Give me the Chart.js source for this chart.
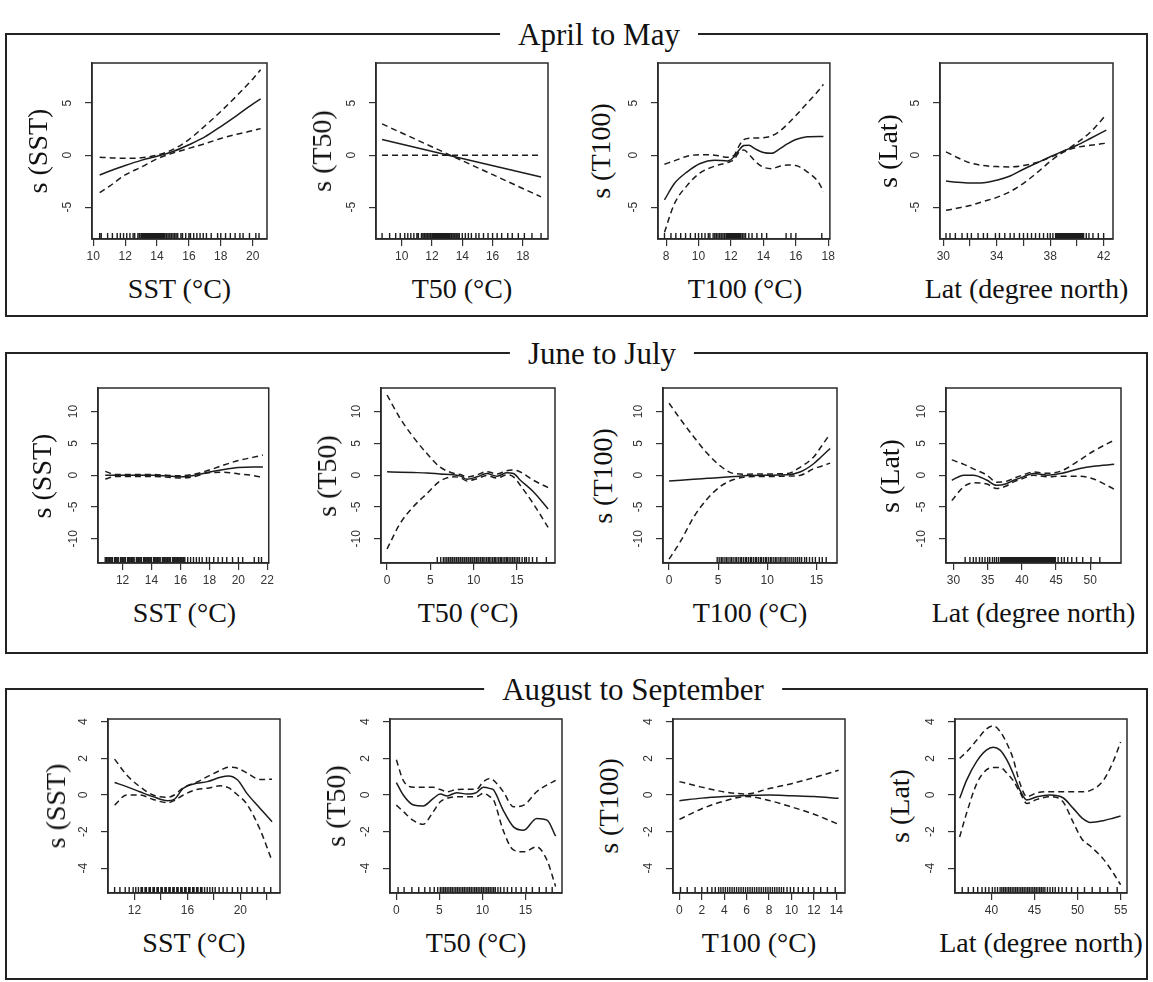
<!DOCTYPE html>
<html>
<head>
<meta charset="utf-8">
<script src="https://cdn.jsdelivr.net/npm/chart.js@4.4.0/dist/chart.umd.min.js"></script>
<style>
  body { margin:0; background:#fff; width:1153px; height:982px; position:relative; overflow:hidden; font-family:"Liberation Serif","Times New Roman",serif; color:#111; }
  .frame { position:absolute; border:2px solid #222; box-sizing:border-box; }
  .rowtitle { position:absolute; background:#fff; padding:0 18px; font-size:31px; line-height:30px; transform:translateX(-50%); white-space:nowrap; }
  .xt, .yt { position:absolute; font-size:28px; line-height:30px; white-space:nowrap; }
  .xt { transform:translate(-50%,-50%); }
  .yt { transform:translate(-50%,-50%) rotate(-90deg); }
  canvas { position:absolute; }
</style>
</head>
<body>
<div class="frame" style="left:5px;top:33px;width:1143px;height:284px;"></div>
<div class="frame" style="left:5px;top:352px;width:1143px;height:302px;"></div>
<div class="frame" style="left:5px;top:688px;width:1143px;height:292px;"></div>
<div class="rowtitle" style="left:599px;top:20px;">April to May</div>
<div class="rowtitle" style="left:602px;top:339px;">June to July</div>
<div class="rowtitle" style="left:633px;top:675px;">August to September</div>

<script>
// ---------- April to May ----------
var amSST_x   = [10.4, 11, 12, 13, 14, 15, 16, 17, 18, 19, 20, 20.5];
var amSST_fit = [-1.9, -1.55, -1.0, -0.5, -0.1, 0.35, 1.0, 1.75, 2.75, 3.8, 4.9, 5.4];
var amSST_hi  = [-0.2, -0.25, -0.3, -0.25, 0.0, 0.55, 1.5, 2.8, 4.2, 5.7, 7.3, 8.2];
var amSST_lo  = [-3.6, -3.0, -1.9, -1.15, -0.35, 0.2, 0.65, 1.1, 1.6, 2.0, 2.35, 2.55];
var amSST_rug = [10.4,10.5,10.9,11.2,11.5,11.7,11.9,12.1,12.3,12.5,12.6,12.8,12.9,13.0,13.05,13.1,13.15,13.2,13.25,13.3,13.35,13.4,13.45,13.5,13.55,13.6,13.65,13.7,13.75,13.8,13.85,13.9,13.95,14.0,14.05,14.1,14.15,14.2,14.25,14.3,14.35,14.4,14.45,14.5,14.6,14.7,14.8,14.9,15.0,15.1,15.2,15.3,15.5,15.6,15.8,16.0,16.1,16.3,16.5,16.7,16.9,17.1,17.4,17.8,18.0,18.3,18.6,18.9,19.2,19.4,19.8,20.2,20.4];

var amT50_x   = [8.7, 13.5, 19.2];
var amT50_fit = [1.5, -0.15, -2.1];
var amT50_hi  = [3.0, -0.2, -4.0];
var amT50_lo  = [0, 0, 0];
var amT50_rug = [8.7,9.2,9.6,9.9,10.2,10.4,10.6,10.8,11.0,11.1,11.3,11.4,11.5,11.6,11.7,11.8,11.9,12.0,12.05,12.1,12.15,12.2,12.25,12.3,12.35,12.4,12.45,12.5,12.55,12.6,12.65,12.7,12.75,12.8,12.85,12.9,12.95,13.0,13.05,13.1,13.15,13.2,13.3,13.4,13.5,13.6,13.7,13.8,14.0,14.2,14.4,14.6,14.9,15.1,15.4,15.7,16.0,16.3,16.6,17.0,17.3,17.7,18.1,18.6,19.2];

var amT100_x   = [7.9, 8.5, 9.3, 10.1, 11.0, 11.8, 12.2, 12.5, 12.8, 13.1, 13.5, 14.0, 14.5, 15.0, 15.5, 16.0, 16.7, 17.4, 17.7];
var amT100_fit = [-4.3, -2.74, -1.6, -0.8, -0.48, -0.55, -0.16, 0.5, 0.92, 0.95, 0.6, 0.26, 0.18, 0.6, 1.1, 1.5, 1.77, 1.8, 1.8];
var amT100_hi  = [-0.87, -0.55, -0.1, 0.05, 0.0, -0.2, 0.0, 0.9, 1.5, 1.62, 1.65, 1.68, 1.85, 2.3, 3.0, 3.8, 5.0, 6.2, 6.8];
var amT100_lo  = [-7.4, -4.7, -2.9, -1.7, -1.05, -0.7, -0.4, 0.3, 0.5, 0.1, -0.6, -1.15, -1.3, -1.06, -0.95, -1.0, -1.6, -2.6, -3.5];
var amT100_rug = [7.9,8.3,8.6,8.9,9.2,9.5,9.8,10.0,10.2,10.4,10.6,10.7,10.9,11.0,11.1,11.2,11.3,11.4,11.5,11.6,11.7,11.75,11.8,11.85,11.9,11.95,12.0,12.05,12.1,12.15,12.2,12.25,12.3,12.35,12.4,12.45,12.5,12.55,12.6,12.7,12.8,12.9,13.1,13.3,13.6,13.9,14.2,15.4,15.7,16.0,17.6];

var amLat_x   = [30.2, 31, 32, 33, 34, 35, 36, 37, 38, 39, 40, 41, 42.2];
var amLat_fit = [-2.48, -2.6, -2.68, -2.65, -2.4, -2.0, -1.35, -0.75, -0.15, 0.4, 0.95, 1.6, 2.4];
var amLat_hi  = [0.32, -0.2, -0.74, -1.0, -1.1, -1.13, -1.0, -0.7, -0.2, 0.35, 1.2, 2.2, 3.9];
var amLat_lo  = [-5.3, -5.1, -4.84, -4.45, -4.05, -3.5, -2.7, -1.7, -0.6, 0.3, 0.75, 0.95, 1.15];
var amLat_rug = [30.2,30.5,30.9,31.4,31.8,32.1,32.6,33.0,33.3,33.9,34.2,34.6,35.0,35.3,35.7,36.0,36.3,36.6,36.9,37.2,37.5,37.8,38.0,38.2,38.4,38.5,38.6,38.7,38.75,38.8,38.85,38.9,38.95,39.0,39.05,39.1,39.15,39.2,39.25,39.3,39.35,39.4,39.45,39.5,39.55,39.6,39.65,39.7,39.75,39.8,39.85,39.9,39.95,40.0,40.1,40.2,40.3,40.4,40.5,40.7,40.9,41.2,41.6,42.0];

// ---------- June to July ----------
var jjSST_x   = [10.8, 11.5, 12, 13, 14, 15, 16, 17, 18, 19, 20, 21, 21.7];
var jjSST_fit = [0, 0, 0, 0, 0, -0.1, -0.25, 0, 0.5, 0.9, 1.2, 1.3, 1.3];
var jjSST_hi  = [0.6, 0.1, 0.1, 0.1, 0.1, 0.0, -0.1, 0.2, 0.8, 1.6, 2.3, 2.8, 3.15];
var jjSST_lo  = [-0.6, -0.2, -0.2, -0.2, -0.2, -0.3, -0.45, -0.2, 0.4, 0.45, 0.2, -0.05, -0.37];
var jjSST_rug = [10.8,10.9,11.0,11.1,11.2,11.3,11.45,11.5,11.6,11.7,11.85,11.9,12.0,12.1,12.2,12.35,12.4,12.5,12.6,12.7,12.8,12.95,13.0,13.1,13.2,13.3,13.45,13.5,13.6,13.7,13.8,13.9,14.0,14.15,14.2,14.3,14.4,14.5,14.6,14.75,14.8,14.9,15.0,15.1,15.2,15.3,15.45,15.5,15.6,15.7,15.8,15.9,16.0,16.1,16.2,16.3,16.5,16.7,16.9,17.1,17.3,17.5,17.8,18.0,18.3,18.6,18.9,19.2,19.6,20.0,20.3,21.1,21.4,21.6];

var jjT50_x   = [0, 1.5, 3, 4.6, 6.1, 7.7, 8.5, 9.2, 10.4, 11.5, 12.7, 13.8, 14.6, 15.4, 16.9, 18.6];
var jjT50_fit = [0.53, 0.48, 0.42, 0.35, 0.2, 0.05, -0.15, -0.65, -0.26, 0.26, -0.16, 0.37, 0.26, -0.8, -2.6, -5.3];
var jjT50_hi  = [12.6, 8.95, 6.05, 3.4, 1.3, 0.3, 0.1, -0.3, 0.05, 0.55, 0.2, 0.7, 0.8, 0.5, -0.8, -1.95];
var jjT50_lo  = [-11.6, -7.6, -5.0, -2.9, -0.95, -0.26, -0.4, -0.9, -0.55, -0.05, -0.45, 0.05, -0.26, -1.6, -4.5, -8.2];
var jjT50_rug = [5.8,6.2,6.5,6.7,6.9,7.1,7.3,7.5,7.6,7.8,8.0,8.2,8.3,8.5,8.7,8.9,9.0,9.2,9.4,9.6,9.7,9.9,10.1,10.3,10.4,10.6,10.8,11.0,11.1,11.3,11.5,11.7,11.8,12.0,12.2,12.4,12.5,12.7,12.9,13.1,13.2,13.4,13.6,13.8,13.9,14.1,14.3,14.5,14.7,14.9,15.1,15.3,15.6,15.9,16.1,16.4,16.8,17.3,18.4];

var jjT100_x   = [0, 1.2, 2.5, 3.9, 5.25, 6.6, 8, 10, 12, 13.4, 14.75, 15.5, 16.4];
var jjT100_fit = [-0.9, -0.78, -0.63, -0.5, -0.37, -0.22, -0.05, 0, 0.05, 0.53, 1.84, 2.9, 4.2];
var jjT100_hi  = [11.3, 8.7, 6.05, 3.4, 1.42, 0.26, 0.16, 0.2, 0.25, 1.3, 2.9, 4.5, 6.5];
var jjT100_lo  = [-13.2, -10.3, -6.6, -3.7, -1.74, -0.68, -0.26, -0.2, -0.15, 0, 1.05, 1.4, 1.9];
var jjT100_rug = [4.9,5.1,5.3,5.4,5.6,5.8,5.9,6.1,6.3,6.4,6.6,6.8,6.9,7.1,7.3,7.4,7.6,7.8,7.9,8.1,8.3,8.4,8.6,8.8,8.9,9.1,9.3,9.4,9.6,9.8,9.9,10.1,10.3,10.4,10.6,10.8,10.9,11.1,11.3,11.4,11.6,11.8,11.9,12.1,12.3,12.5,12.7,12.9,13.1,13.3,13.5,13.8,14.0,14.3,14.6,14.9,15.3,15.6,16.0];

var jjLat_x   = [29.75, 31.5, 32.9, 34.9, 36.3, 37.6, 38.8, 40.2, 41.7, 43.7, 45.6, 48.5, 50.5, 53.5];
var jjLat_fit = [-0.8, 0, 0, -0.8, -1.6, -1.4, -0.8, -0.26, 0.26, 0, 0.26, 1.05, 1.4, 1.7];
var jjLat_hi  = [2.4, 1.7, 1.0, 0, -1.1, -1.0, -0.5, 0.05, 0.5, 0.3, 0.6, 2.4, 3.8, 5.5];
var jjLat_lo  = [-4.0, -1.8, -1.2, -1.4, -2.1, -1.75, -1.05, -0.5, 0.0, -0.25, -0.15, -0.15, -0.6, -2.2];
var jjLat_rug = [31.7,32.4,32.9,33.3,33.8,34.2,34.6,35.0,35.3,35.7,36.0,36.3,36.6,36.9,37.1,37.3,37.5,37.7,37.9,38.1,38.3,38.5,38.7,38.9,39.1,39.3,39.5,39.7,39.9,40.1,40.3,40.5,40.7,40.9,41.1,41.3,41.5,41.7,41.9,42.1,42.3,42.5,42.7,42.9,43.1,43.3,43.5,43.7,43.9,44.1,44.3,44.5,44.7,44.9,45.3,45.8,46.2,46.7,47.3,48.0,48.9,50.1,51.4];

// ---------- August to September ----------
var asSST_x   = [10.5, 11.4, 12.4, 13.4, 14.5, 15.0, 15.7, 16.7, 17.5, 18.5, 19.1, 19.8, 20.5, 21.5, 22.4];
var asSST_fit = [0.68, 0.46, 0.18, -0.09, -0.31, -0.24, 0.37, 0.64, 0.73, 0.97, 1.04, 0.82, 0.09, -0.73, -1.46];
var asSST_hi  = [1.96, 1.1, 0.46, 0.0, -0.13, 0.0, 0.4, 0.7, 1.0, 1.35, 1.52, 1.46, 1.2, 0.85, 0.86];
var asSST_lo  = [-0.55, 0.0, 0.0, -0.24, -0.42, -0.3, 0.0, 0.3, 0.37, 0.5, 0.4, 0.0, -0.5, -1.9, -3.6];
var asSST_rug = [10.5,10.9,11.3,11.6,11.9,12.1,12.3,12.5,12.6,12.8,12.9,13.1,13.2,13.4,13.5,13.7,13.8,14.0,14.1,14.3,14.4,14.6,14.7,14.9,15.0,15.2,15.3,15.5,15.6,15.8,15.9,16.1,16.2,16.4,16.5,16.7,16.8,17.0,17.1,17.3,17.5,17.7,17.9,18.1,18.4,18.7,19.0,19.4,19.8,20.1,20.5,20.9,21.3,21.8,22.3];

var asT50_x   = [0, 0.8, 2.0, 3.1, 4.3, 5.1, 5.9, 7.0, 8.2, 9.3, 10.1, 10.9, 11.3, 12.4, 13.6, 14.8, 16.3, 17.5, 18.5];
var asT50_fit = [0.68, 0, -0.55, -0.6, -0.18, 0.05, -0.05, 0.13, 0.05, 0.13, 0.42, 0.35, 0.27, -0.82, -1.74, -1.92, -1.28, -1.37, -2.25];
var asT50_hi  = [1.92, 0.8, 0.42, 0.42, 0.42, 0.3, 0.18, 0.3, 0.31, 0.31, 0.73, 0.91, 0.8, 0.2, -0.64, -0.55, 0.18, 0.55, 0.8];
var asT50_lo  = [-0.55, -0.9, -1.4, -1.6, -0.9, -0.37, -0.18, -0.09, -0.09, -0.09, 0.09, -0.1, -0.27, -1.92, -3.0, -3.1, -2.83, -3.56, -5.0];
var asT50_rug = [0.2,0.9,1.8,2.6,3.3,3.9,4.4,4.8,5.1,5.3,5.5,5.7,5.9,6.1,6.3,6.5,6.7,6.9,7.1,7.3,7.5,7.7,7.9,8.1,8.3,8.5,8.7,8.9,9.1,9.3,9.5,9.7,9.9,10.1,10.3,10.5,10.7,10.9,11.1,11.3,11.5,11.8,12.1,12.5,12.9,13.4,13.9,14.5,15.1,15.8,16.6,17.4,18.1];

var asT100_x   = [0, 2, 4, 6, 8, 10, 12, 14.2];
var asT100_fit = [-0.31, -0.17, -0.08, -0.02, 0, -0.04, -0.08, -0.18];
var asT100_hi  = [0.73, 0.43, 0.17, 0.06, 0.35, 0.62, 0.95, 1.35];
var asT100_lo  = [-1.33, -0.75, -0.33, -0.08, -0.3, -0.65, -1.05, -1.6];
var asT100_rug = [0.1,0.7,1.4,2.0,2.5,2.9,3.2,3.5,3.7,3.9,4.1,4.3,4.5,4.7,4.9,5.1,5.3,5.5,5.7,5.9,6.1,6.3,6.5,6.7,6.9,7.1,7.3,7.5,7.7,7.9,8.1,8.3,8.5,8.7,8.9,9.1,9.3,9.6,9.9,10.2,10.6,11.0,11.5,12.0,12.6,13.2,13.9];

var asLat_x   = [36.3, 37.1, 38.3, 39.4, 40.2, 41.0, 41.8, 42.5, 43.3, 44.1, 45.3, 46.8, 48.3, 49.5, 50.5, 51.5, 53, 54.2, 55];
var asLat_fit = [-0.18, 0.8, 1.85, 2.45, 2.61, 2.45, 1.9, 1.19, 0.27, -0.27, -0.09, 0, -0.15, -0.73, -1.25, -1.5, -1.4, -1.25, -1.15];
var asLat_hi  = [2.0, 2.35, 3.0, 3.6, 3.78, 3.47, 2.8, 2.0, 0.64, -0.09, 0.13, 0.18, 0.18, 0.18, 0.18, 0.25, 0.8, 1.9, 2.9];
var asLat_lo  = [-2.29, -1.0, 0.64, 1.37, 1.5, 1.5, 1.19, 0.8, 0.15, -0.46, -0.24, -0.09, -0.37, -1.5, -2.4, -2.8, -3.5, -4.3, -4.9];
var asLat_rug = [36.6,37.3,37.9,38.4,38.9,39.3,39.7,40.1,40.4,40.7,41.0,41.2,41.4,41.6,41.8,42.0,42.2,42.4,42.6,42.8,43.0,43.2,43.4,43.6,43.8,44.0,44.2,44.4,44.6,44.8,45.0,45.2,45.4,45.6,45.8,46.0,46.2,46.5,46.8,47.1,47.4,47.8,48.2,48.7,49.3,50.0,50.8,51.7,52.6,53.5,54.6];

// axis ticks and limits
var amSST_ticks = [10, 12, 14, 16, 18, 20];   var amSST_labels = [10, 12, 14, 16, 18, 20];
var amT50_ticks = [10, 12, 14, 16, 18];       var amT50_labels = [10, 12, 14, 16, 18];
var amT100_ticks = [8, 10, 12, 14, 16, 18];   var amT100_labels = [8, 10, 12, 14, 16, 18];
var amLat_ticks = [30, 32, 34, 36, 38, 40, 42]; var amLat_labels = [30, 34, 38, 42];
var jjSST_ticks = [12, 14, 16, 18, 20, 22];   var jjSST_labels = [12, 14, 16, 18, 20, 22];
var jjT50_ticks = [0, 5, 10, 15];             var jjT50_labels = [0, 5, 10, 15];
var jjT100_ticks = [0, 5, 10, 15];            var jjT100_labels = [0, 5, 10, 15];
var jjLat_ticks = [30, 35, 40, 45, 50];       var jjLat_labels = [30, 35, 40, 45, 50];
var asSST_ticks = [12, 14, 16, 18, 20, 22];   var asSST_labels = [12, 16, 20];
var asT50_ticks = [0, 5, 10, 15];             var asT50_labels = [0, 5, 10, 15];
var asT100_ticks = [0, 2, 4, 6, 8, 10, 12, 14]; var asT100_labels = [0, 2, 4, 6, 8, 10, 12, 14];
var asLat_ticks = [40, 45, 50, 55];           var asLat_labels = [40, 45, 50, 55];

var amY_ticks = [-5, 0, 5];
var jjY_ticks = [-10, -5, 0, 5, 10];
var asY_ticks = [-4, -2, 0, 2, 4];

var amY_lim = [-8.05, 8.85];
var jjY_lim = [-13.8, 13.7];
var asY_lim = [-5.35, 4.15];

var xLims = {
  amSST: [9.92, 20.9], amT50: [8.3, 19.66], amT100: [7.5, 18.1], amLat: [29.75, 42.7],
  jjSST: [10.3, 22.1], jjT50: [-0.7, 19.4], jjT100: [-0.62, 17.1], jjLat: [28.9, 54.5],
  asSST: [10.0, 23.0], asT50: [-0.74, 19.24], asT100: [-0.57, 14.77], asLat: [35.76, 55.74]
};

// panel boxes: left, top, width, height (pixels)
var boxes = {
  amSST: [92, 63, 175, 176], amT50: [376, 63, 172, 176], amT100: [658, 63, 174, 176], amLat: [940, 63, 173, 176],
  jjSST: [98, 388, 173, 175], jjT50: [381, 388, 174, 175], jjT100: [663, 388, 174, 175], jjLat: [946, 388, 175, 175],
  asSST: [108, 719, 172, 174], asT50: [390, 719, 172, 174], asT100: [673, 719, 172, 174], asLat: [955, 719, 172, 174]
};

var L = 40, T = 6, R = 6, B = 34;
var INK = '#1c1c1c';

function pts(xs, ys) {
  return xs.map(function(x, i) { return {x: x, y: ys[i]}; });
}

function addText(cls, text, x, y) {
  var d = document.createElement('div');
  d.className = cls;
  d.textContent = text;
  d.style.left = x + 'px';
  d.style.top = y + 'px';
  document.body.appendChild(d);
}

function panel(key, xs, fit, hi, lo, rug, xticks, xlabels, yticks, ylim, ylab, xlab, ylabOff) {
  var b = boxes[key];
  var cv = document.createElement('canvas');
  cv.width = b[2] + L + R;
  cv.height = b[3] + T + B;
  cv.style.left = (b[0] - L) + 'px';
  cv.style.top = (b[1] - T) + 'px';
  document.body.appendChild(cv);

  addText('yt', ylab, b[0] - ylabOff, b[1] + b[3] / 2);
  addText('xt', xlab, b[0] + b[2] / 2, b[1] + b[3] + 50);

  var decor = {
    id: 'decor_' + key,
    afterDatasetsDraw: function(chart) {
      var ctx = chart.ctx, a = chart.chartArea;
      var sx = chart.scales.x, sy = chart.scales.y;
      ctx.save();
      // rug
      ctx.strokeStyle = INK;
      ctx.lineWidth = 1.4;
      ctx.beginPath();
      rug.forEach(function(v) {
        var px = sx.getPixelForValue(v);
        ctx.moveTo(px, a.bottom);
        ctx.lineTo(px, a.bottom - 6);
      });
      ctx.stroke();
      // box
      ctx.lineWidth = 1.5;
      ctx.strokeStyle = '#2a2a2a';
      ctx.strokeRect(a.left, a.top, a.right - a.left, a.bottom - a.top);
      // rotated y tick labels
      ctx.fillStyle = '#333';
      ctx.font = '12px "Liberation Sans", Arial, sans-serif';
      ctx.textAlign = 'center';
      ctx.textBaseline = 'middle';
      yticks.forEach(function(v) {
        var py = sy.getPixelForValue(v);
        ctx.save();
        ctx.translate(a.left - 24, py);
        ctx.rotate(-Math.PI / 2);
        ctx.fillText(String(v), 0, 0);
        ctx.restore();
      });
      ctx.restore();
    }
  };

  var lineStyle = function(data, dashed) {
    return {
      data: data,
      borderColor: INK,
      borderWidth: 1.5,
      borderDash: dashed ? [6, 4] : [],
      pointRadius: 0,
      fill: false,
      cubicInterpolationMode: 'monotone'
    };
  };

  new Chart(cv.getContext('2d'), {
    type: 'line',
    data: {
      datasets: [
        lineStyle(pts(xs, fit), false),
        lineStyle(pts(xs, hi), true),
        lineStyle(pts(xs, lo), true)
      ]
    },
    options: {
      animation: false,
      responsive: false,
      devicePixelRatio: 1,
      layout: { padding: { left: 0, top: T, right: R, bottom: 0 } },
      plugins: { legend: { display: false }, tooltip: { enabled: false } },
      scales: {
        x: {
          type: 'linear',
          min: xLims[key][0],
          max: xLims[key][1],
          afterBuildTicks: function(s) { s.ticks = xticks.map(function(v) { return {value: v}; }); },
          afterFit: function(s) { s.height = B; },
          grid: { drawOnChartArea: false, drawTicks: true, tickLength: 7, color: '#333', lineWidth: 1.2 },
          border: { display: true, color: '#2a2a2a', width: 1.5 },
          ticks: {
            autoSkip: false, maxRotation: 0, minRotation: 0, padding: 3, color: '#333',
            font: { family: '"Liberation Sans", Arial, sans-serif', size: 12 },
            callback: function(v) { return xlabels.indexOf(v) >= 0 ? String(v) : ''; }
          }
        },
        y: {
          type: 'linear',
          min: ylim[0],
          max: ylim[1],
          afterBuildTicks: function(s) { s.ticks = yticks.map(function(v) { return {value: v}; }); },
          afterFit: function(s) { s.width = L; },
          grid: { drawOnChartArea: false, drawTicks: true, tickLength: 7, color: '#333', lineWidth: 1.2 },
          border: { display: true, color: '#2a2a2a', width: 1.5 },
          ticks: { display: false }
        }
      }
    },
    plugins: [decor]
  });
}

panel('amSST', amSST_x, amSST_fit, amSST_hi, amSST_lo, amSST_rug, amSST_ticks, amSST_labels, amY_ticks, amY_lim, 's (SST)', 'SST (\u00B0C)', 54);
panel('amT50', amT50_x, amT50_fit, amT50_hi, amT50_lo, amT50_rug, amT50_ticks, amT50_labels, amY_ticks, amY_lim, 's (T50)', 'T50 (\u00B0C)', 54);
panel('amT100', amT100_x, amT100_fit, amT100_hi, amT100_lo, amT100_rug, amT100_ticks, amT100_labels, amY_ticks, amY_lim, 's (T100)', 'T100 (\u00B0C)', 57);
panel('amLat', amLat_x, amLat_fit, amLat_hi, amLat_lo, amLat_rug, amLat_ticks, amLat_labels, amY_ticks, amY_lim, 's (Lat)', 'Lat (degree north)', 52);

panel('jjSST', jjSST_x, jjSST_fit, jjSST_hi, jjSST_lo, jjSST_rug, jjSST_ticks, jjSST_labels, jjY_ticks, jjY_lim, 's (SST)', 'SST (\u00B0C)', 56);
panel('jjT50', jjT50_x, jjT50_fit, jjT50_hi, jjT50_lo, jjT50_rug, jjT50_ticks, jjT50_labels, jjY_ticks, jjY_lim, 's (T50)', 'T50 (\u00B0C)', 54);
panel('jjT100', jjT100_x, jjT100_fit, jjT100_hi, jjT100_lo, jjT100_rug, jjT100_ticks, jjT100_labels, jjY_ticks, jjY_lim, 's (T100)', 'T100 (\u00B0C)', 60);
panel('jjLat', jjLat_x, jjLat_fit, jjLat_hi, jjLat_lo, jjLat_rug, jjLat_ticks, jjLat_labels, jjY_ticks, jjY_lim, 's (Lat)', 'Lat (degree north)', 56);

panel('asSST', asSST_x, asSST_fit, asSST_hi, asSST_lo, asSST_rug, asSST_ticks, asSST_labels, asY_ticks, asY_lim, 's (SST)', 'SST (\u00B0C)', 52);
panel('asT50', asT50_x, asT50_fit, asT50_hi, asT50_lo, asT50_rug, asT50_ticks, asT50_labels, asY_ticks, asY_lim, 's (T50)', 'T50 (\u00B0C)', 54);
panel('asT100', asT100_x, asT100_fit, asT100_hi, asT100_lo, asT100_rug, asT100_ticks, asT100_labels, asY_ticks, asY_lim, 's (T100)', 'T100 (\u00B0C)', 64);
panel('asLat', asLat_x, asLat_fit, asLat_hi, asLat_lo, asLat_rug, asLat_ticks, asLat_labels, asY_ticks, asY_lim, 's (Lat)', 'Lat (degree north)', 55);
</script>
</body>
</html>
